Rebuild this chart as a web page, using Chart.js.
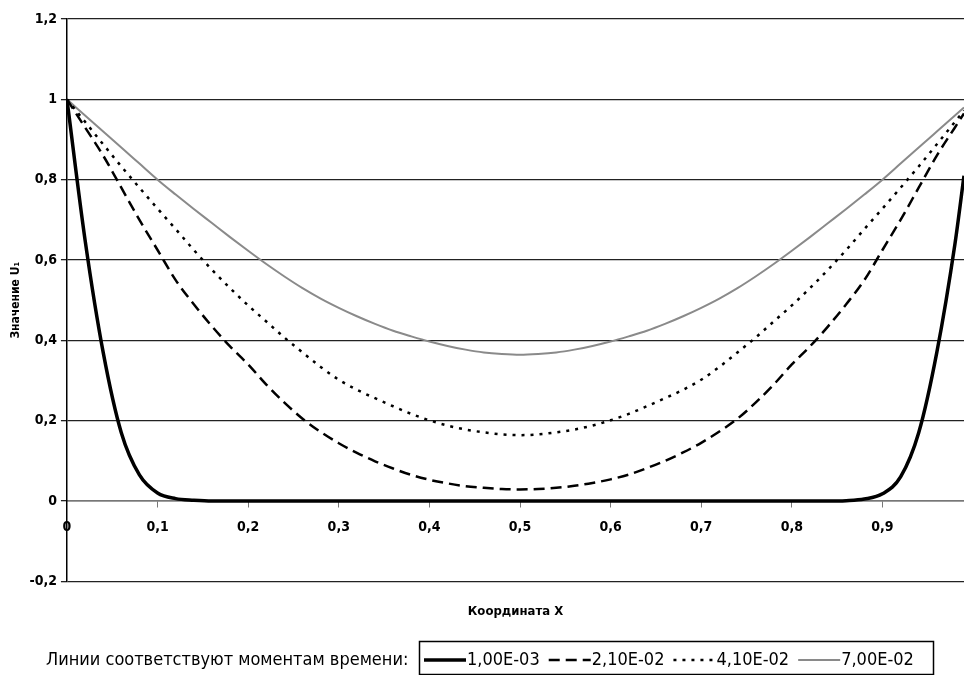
<!DOCTYPE html>
<html>
<head>
<meta charset="utf-8">
<script src="https://cdn.jsdelivr.net/npm/chart.js@4/dist/chart.umd.min.js"></script>
<style>
  html, body { margin: 0; padding: 0; background: #fff; }
  #wrap { width: 964px; height: 675px; }
</style>
</head>
<body>
<div id="wrap"><canvas id="c"></canvas></div>
<script>
// координаты X (шаг 0,02 и последняя точка 0,99)
const xs = [0, 0.02, 0.04, 0.06, 0.08, 0.10, 0.12, 0.14, 0.16, 0.18,
  0.20, 0.22, 0.24, 0.26, 0.28, 0.30, 0.32, 0.34, 0.36, 0.38,
  0.40, 0.42, 0.44, 0.46, 0.48, 0.50, 0.52, 0.54, 0.56, 0.58,
  0.60, 0.62, 0.64, 0.66, 0.68, 0.70, 0.72, 0.74, 0.76, 0.78,
  0.80, 0.82, 0.84, 0.86, 0.88, 0.90, 0.92, 0.94, 0.96, 0.98, 0.99];

// моменты времени (подписи легенды)
const timeLabels = ['1,00E-03', '2,10E-02', '4,10E-02', '7,00E-02'];

// значения U1 для каждого момента времени
const u_t1 = [1, 0.65, 0.37, 0.17, 0.065, 0.02, 0.006, 0.002, 0, 0,
  0, 0, 0, 0, 0, 0, 0, 0, 0, 0,
  0, 0, 0, 0, 0, 0, 0, 0, 0, 0,
  0, 0, 0, 0, 0, 0, 0, 0, 0, 0,
  0, 0, 0, 0.001, 0.005, 0.018, 0.06, 0.17, 0.37, 0.64, 0.81];
const u_t2 = [1, 0.93, 0.86, 0.78, 0.70, 0.625, 0.55, 0.49, 0.435, 0.385,
  0.34, 0.29, 0.245, 0.205, 0.172, 0.144, 0.12, 0.099, 0.081, 0.065,
  0.053, 0.044, 0.037, 0.033, 0.03, 0.029, 0.03, 0.033, 0.038, 0.045,
  0.054, 0.066, 0.082, 0.1, 0.121, 0.145, 0.173, 0.205, 0.245, 0.29,
  0.34, 0.385, 0.435, 0.49, 0.55, 0.625, 0.70, 0.78, 0.86, 0.93, 0.965];
const u_t3 = [1, 0.944, 0.888, 0.833, 0.78, 0.728, 0.677, 0.625, 0.576, 0.53,
  0.487, 0.447, 0.407, 0.37, 0.334, 0.302, 0.277, 0.256, 0.236, 0.217,
  0.201, 0.188, 0.178, 0.171, 0.166, 0.164, 0.166, 0.171, 0.178, 0.188,
  0.201, 0.217, 0.236, 0.256, 0.277, 0.302, 0.334, 0.37, 0.407, 0.447,
  0.487, 0.53, 0.576, 0.625, 0.677, 0.728, 0.78, 0.833, 0.888, 0.944, 0.972];
const u_t4 = [1, 0.96, 0.92, 0.88, 0.84, 0.8, 0.763, 0.727, 0.692, 0.657,
  0.623, 0.59, 0.559, 0.53, 0.504, 0.481, 0.46, 0.441, 0.424, 0.41,
  0.397, 0.386, 0.377, 0.37, 0.366, 0.364, 0.366, 0.37, 0.377, 0.386,
  0.397, 0.41, 0.424, 0.441, 0.46, 0.481, 0.504, 0.53, 0.559, 0.59,
  0.623, 0.657, 0.692, 0.727, 0.763, 0.8, 0.84, 0.88, 0.92, 0.96, 0.98];

const narrow = "'Liberation Sans Narrow', 'Arial Narrow', 'DejaVu Sans Condensed', sans-serif";

// запятая вместо точки
const fmt = v => String(Number(v.toFixed(2))).replace('.', ',');

const toPoints = ys => xs.map((x, i) => ({ x: x, y: ys[i] }));

// легенда в рамке с подписью слева
const boxLegend = {
  id: 'boxLegend',
  afterDraw(chart) {
    const c = chart.ctx;
    const y = 660;
    c.save();
    c.font = '18px ' + narrow;
    c.fillStyle = '#000';
    c.textBaseline = 'middle';
    c.textAlign = 'left';
    c.fillText('Линии соответствуют моментам времени:', 46, y);
    c.lineWidth = 1.5;
    c.strokeStyle = '#000';
    c.setLineDash([]);
    c.strokeRect(419.5, 641.5, 514, 33);
    let x = 424;
    chart.data.datasets.forEach(ds => {
      c.save();
      c.strokeStyle = ds.borderColor;
      c.lineWidth = ds.borderWidth;
      c.setLineDash(ds.borderDash || []);
      c.beginPath();
      c.moveTo(x, y);
      c.lineTo(x + 42, y);
      c.stroke();
      c.restore();
      c.fillText(ds.label, x + 43, y);
      x += 43 + c.measureText(ds.label).width + 9;
    });
    c.restore();
  }
};

new Chart(document.getElementById('c'), {
  type: 'line',
  data: {
    datasets: [
      { label: timeLabels[0], data: toPoints(u_t1), borderColor: '#000', borderWidth: 3.5 },
      { label: timeLabels[1], data: toPoints(u_t2), borderColor: '#000', borderWidth: 2.5, borderDash: [11, 6] },
      { label: timeLabels[2], data: toPoints(u_t3), borderColor: '#000', borderWidth: 2.5, borderDash: [3, 6] },
      { label: timeLabels[3], data: toPoints(u_t4), borderColor: '#8a8a8a', borderWidth: 2 }
    ]
  },
  options: {
    responsive: true,
    maintainAspectRatio: false,
    animation: false,
    elements: {
      point: { radius: 0 },
      line: { cubicInterpolationMode: 'monotone', fill: false }
    },
    layout: { padding: { top: 19, left: 0, right: 0, bottom: 56 } },
    plugins: {
      legend: { display: false },
      tooltip: { enabled: false }
    },
    scales: {
      x: {
        type: 'linear',
        min: 0,
        max: 0.99,
        position: { y: 0 },
        grid: { drawOnChartArea: false, drawTicks: true, tickLength: 6, color: '#777' },
        border: { color: '#777', width: 1.5 },
        ticks: {
          stepSize: 0.1,
          includeBounds: false,
          autoSkip: false,
          maxRotation: 0,
          padding: 12,
          color: '#000',
          font: { family: narrow, size: 14, weight: 'bold' },
          callback: v => fmt(v)
        }
      },
      x2: {
        type: 'linear',
        position: 'bottom',
        min: 0,
        max: 0.99,
        grid: { display: false, drawTicks: false },
        border: { display: false },
        ticks: { display: false },
        title: {
          display: true,
          text: 'Координата X',
          color: '#000',
          font: { family: narrow, size: 13, weight: 'bold' },
          padding: { top: 22, bottom: 0 }
        }
      },
      y: {
        min: -0.2,
        max: 1.2,
        grid: { color: '#222', lineWidth: 1.3, tickLength: 6 },
        border: { color: '#000', width: 1.5 },
        ticks: {
          stepSize: 0.2,
          padding: 4,
          color: '#000',
          font: { family: narrow, size: 14, weight: 'bold' },
          callback: v => fmt(v)
        },
        title: {
          display: true,
          text: 'Значение U₁',
          color: '#000',
          font: { family: narrow, size: 12, weight: 'bold' },
          padding: { top: 9, bottom: 2 }
        }
      }
    }
  },
  plugins: [boxLegend]
});
</script>
</body>
</html>
